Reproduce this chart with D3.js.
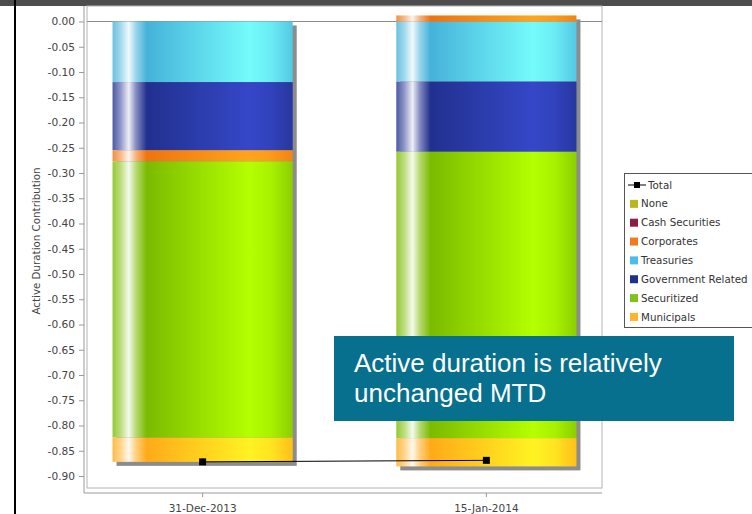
<!DOCTYPE html>
<html>
<head>
<meta charset="utf-8">
<script src="https://cdn.jsdelivr.net/npm/d3@7"></script>
<style>
  html, body { margin: 0; padding: 0; background: #fff; }
  svg { display: block; }
</style>
</head>
<body>
<svg id="chart" width="752" height="514"></svg>
<script>
// ---- data ----
const categories = ["31-Dec-2013", "15-Jan-2014"];
const none = [0, 0];
const cashSecurities = [0, 0];
const corporates = [-0.022, 0.012];
const treasuries = [-0.120, -0.119];
const governmentRelated = [-0.135, -0.139];
const securitized = [-0.547, -0.567];
const municipals = [-0.048, -0.056];
const total = [-0.872, -0.869];

const yTicks = [0, -0.05, -0.10, -0.15, -0.20, -0.25, -0.30, -0.35, -0.40, -0.45,
                -0.50, -0.55, -0.60, -0.65, -0.70, -0.75, -0.80, -0.85, -0.90];

const legendNames = ["None", "Cash Securities", "Corporates", "Treasuries",
                     "Government Related", "Securitized", "Municipals"];
const yTitle = "Active Duration Contribution";
const calloutLines = ["Active duration is relatively", "unchanged MTD"];

// ---- styles ----
const seriesValues = {
  "None": none,
  "Cash Securities": cashSecurities,
  "Corporates": corporates,
  "Treasuries": treasuries,
  "Government Related": governmentRelated,
  "Securitized": securitized,
  "Municipals": municipals
};
// stacking order outward from zero
const stackKeys = ["Treasuries", "Government Related", "Corporates", "Securitized",
                   "Municipals", "None", "Cash Securities"];
const flatColor = {
  "None": "#b6b81e",
  "Cash Securities": "#8a1f42",
  "Corporates": "#f07a1e",
  "Treasuries": "#4cbde6",
  "Government Related": "#1f2f8c",
  "Securitized": "#7fc21a",
  "Municipals": "#ffb52a"
};
// cylinder shading: darker side / brighter side
const shade = {
  "None": ["#a8aa10", "#e0e240"],
  "Cash Securities": ["#7a1838", "#a83058"],
  "Corporates": ["#ee7410", "#ffa41e"],
  "Treasuries": ["#45b2da", "#74fbfb"],
  "Government Related": ["#21308e", "#3547c8"],
  "Securitized": ["#7abb00", "#b4ff00"],
  "Municipals": ["#ffaa18", "#fff222"]
};

const FONT = "'DejaVu Sans', Verdana, sans-serif";
const svg = d3.select("#chart");

// page furniture
svg.append("rect").attr("x", 0).attr("y", 0).attr("width", 752).attr("height", 6).attr("fill", "#4d4d4d");
svg.append("rect").attr("x", 14).attr("y", 0).attr("width", 2).attr("height", 514).attr("fill", "#000");

// ---- scales ----
const plot = { left: 87, right: 602, top: 6, bottom: 488 };
const y = d3.scaleLinear().domain([0, -0.9]).range([21.5, 476]);
const x = d3.scaleBand().domain(categories).range([plot.left, plot.right])
  .paddingInner(0.365).paddingOuter(0.09);

// ---- gradients ----
const defs = svg.append("defs");
stackKeys.forEach((k, i) => {
  const [dk, br] = shade[k];
  const mixW = t => d3.interpolateRgb(dk, "#ffffff")(t);
  const mixB = t => d3.interpolateRgb(dk, br)(t);
  const g = defs.append("linearGradient").attr("id", "g" + i)
    .attr("x1", 0).attr("x2", 1).attr("y1", 0).attr("y2", 0);
  [[0, mixW(0.2)], [0.045, mixW(0.5)], [0.09, mixW(0.92)], [0.13, mixW(0.45)],
   [0.19, dk], [0.5, mixB(0.55)], [0.76, br], [0.88, mixB(0.8)], [1, mixB(0.3)]]
    .forEach(([o, c]) => g.append("stop").attr("offset", o).attr("stop-color", c));
});

// ---- frame & axes ----
const axisGray = "#9a9a9a";
svg.append("rect").attr("x", plot.left).attr("y", plot.top)
  .attr("width", plot.right - plot.left).attr("height", plot.bottom - plot.top)
  .attr("fill", "#fff").attr("stroke", "#b4b4b4").attr("stroke-width", 1);

// zero line
svg.append("line").attr("x1", plot.left).attr("x2", plot.right)
  .attr("y1", y(0)).attr("y2", y(0)).attr("stroke", "#8c8c8c").attr("stroke-width", 1);

const yAxis = svg.append("g").attr("transform", "translate(84,0)")
  .call(d3.axisLeft(y).tickValues(yTicks).tickFormat(d => d.toFixed(2))
    .tickSize(5).tickSizeOuter(0).tickPadding(4));
yAxis.select(".domain").remove();
yAxis.append("line").attr("x1", 0).attr("x2", 0).attr("y1", plot.top).attr("y2", 493)
  .attr("stroke", axisGray);
yAxis.selectAll(".tick line").attr("stroke", axisGray);
yAxis.selectAll(".tick text").attr("fill", "#444").style("font-family", FONT).style("font-size", "10.6px");

const xAxis = svg.append("g").attr("transform", "translate(0,493)")
  .call(d3.axisBottom(x).tickSize(4).tickSizeOuter(0).tickPadding(8));
xAxis.select(".domain").remove();
xAxis.append("line").attr("x1", 84).attr("x2", plot.right).attr("y1", 0).attr("y2", 0)
  .attr("stroke", axisGray);
xAxis.selectAll(".tick line").attr("stroke", axisGray);
xAxis.selectAll(".tick text").attr("fill", "#444").style("font-family", FONT).style("font-size", "10.5px");

svg.append("text").attr("transform", "translate(40,241) rotate(-90)")
  .attr("text-anchor", "middle").attr("fill", "#444")
  .style("font-family", FONT).style("font-size", "10.3px").text(yTitle);

// ---- stacked bars ----
const rows = categories.map((c, i) => {
  const r = { category: c };
  stackKeys.forEach(k => { r[k] = seriesValues[k][i]; });
  return r;
});
const stacked = d3.stack().keys(stackKeys).offset(d3.stackOffsetDiverging)(rows);

// drop shadows behind each full bar
const extents = rows.map((r, i) => {
  const lo = d3.min(stacked, s => Math.min(s[i][0], s[i][1]));
  const hi = d3.max(stacked, s => Math.max(s[i][0], s[i][1]));
  return { category: r.category, lo, hi };
});
svg.append("g").selectAll("rect").data(extents).join("rect")
  .attr("x", d => x(d.category) + 4)
  .attr("y", d => y(d.hi) + 4)
  .attr("width", x.bandwidth())
  .attr("height", d => y(d.lo) - y(d.hi))
  .attr("fill", "#8c8c8c");

const layers = svg.append("g").selectAll("g").data(stacked).join("g")
  .attr("fill", (s, i) => `url(#g${i})`);
layers.selectAll("rect").data(s => s.map((d, i) => ({ d, cat: categories[i] })))
  .join("rect")
  .attr("x", o => x(o.cat))
  .attr("y", o => y(Math.max(o.d[0], o.d[1])))
  .attr("width", x.bandwidth())
  .attr("height", o => Math.abs(y(o.d[0]) - y(o.d[1])));

// ---- total line ----
const totalPts = categories.map((c, i) => [x(c) + x.bandwidth() / 2, y(total[i])]);
svg.append("path").attr("d", d3.line()(totalPts))
  .attr("fill", "none").attr("stroke", "#000").attr("stroke-width", 1);
svg.append("g").selectAll("rect").data(totalPts).join("rect")
  .attr("x", p => p[0] - 3.5).attr("y", p => p[1] - 3.5)
  .attr("width", 7).attr("height", 7).attr("fill", "#000");

// ---- legend ----
const lg = svg.append("g");
lg.append("rect").attr("x", 624.5).attr("y", 173.5).attr("width", 140).attr("height", 154)
  .attr("fill", "#fff").attr("stroke", "#555");
const rowY = i => 185 + i * 18.85;
lg.append("line").attr("x1", 628).attr("x2", 646).attr("y1", rowY(0)).attr("y2", rowY(0))
  .attr("stroke", "#000");
lg.append("rect").attr("x", 634).attr("y", rowY(0) - 3).attr("width", 6).attr("height", 6).attr("fill", "#000");
lg.append("text").attr("x", 648).attr("y", rowY(0)).attr("dy", "0.35em")
  .attr("fill", "#333").style("font-family", FONT).style("font-size", "10.3px").text("Total");
legendNames.forEach((n, j) => {
  const yy = rowY(j + 1);
  lg.append("rect").attr("x", 630).attr("y", yy - 4).attr("width", 8).attr("height", 8)
    .attr("fill", flatColor[n]);
  lg.append("text").attr("x", 641).attr("y", yy).attr("dy", "0.35em")
    .attr("fill", "#333").style("font-family", FONT).style("font-size", "10.3px").text(n);
});

// ---- callout ----
const co = svg.append("g");
co.append("rect").attr("x", 334).attr("y", 336).attr("width", 400).attr("height", 85)
  .attr("fill", "#07708e");
calloutLines.forEach((t, i) => {
  co.append("text").attr("x", 354).attr("y", 371.5 + i * 30)
    .attr("fill", "#fff").style("font-family", "'Liberation Sans', Arial, sans-serif")
    .style("font-size", "26px").text(t);
});
</script>
</body>
</html>
